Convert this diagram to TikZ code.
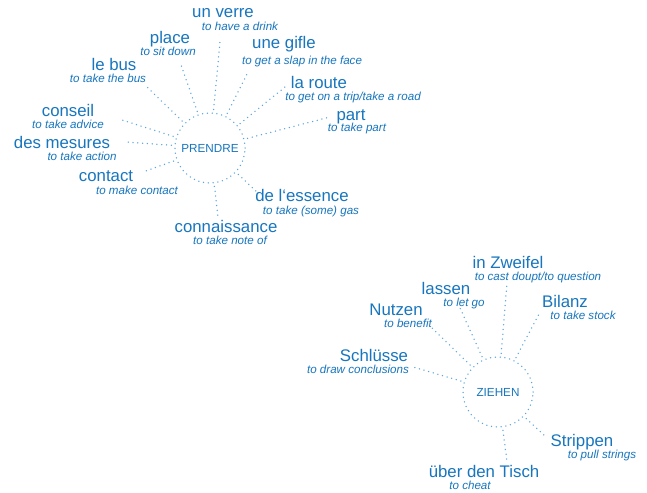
\documentclass[tikz,border=0pt]{standalone}
\usepackage{fontspec}
\setmainfont{Liberation Sans}
\definecolor{mainblue}{RGB}{23,118,190}
\definecolor{dotblue}{RGB}{90,165,222}
\tikzset{
  mainlbl/.style={inner sep=0pt, text=mainblue, font=\fontsize{16.8}{20}\selectfont},
  sublbl/.style={inner sep=0pt, text=mainblue, font=\fontsize{11.6}{14}\selectfont\itshape},
  hub/.style={circle, minimum size=70pt, inner sep=0pt, draw=dotblue, line width=1.5pt,
     dash pattern=on 0pt off 4.8pt, line cap=round, text=mainblue, font=\fontsize{11.7}{14}\selectfont},
  spoke/.style={draw=dotblue, line width=1.5pt, dash pattern=on 0pt off 4.8pt, line cap=round, shorten <=3pt}
}
\begin{document}
\begin{tikzpicture}[x=1pt,y=-1pt]
\useasboundingbox[fill=white] (0,0) rectangle (647,492);

% ---- PRENDRE ----
\node[hub] (P) at (210,148) {PRENDRE};

\node[mainlbl] (m1) at (223,13.5) {un verre};
\node[sublbl] (s1) at (240,26.5) {to have a drink};
\node[mainlbl] (m2) at (170,39.5) {place};
\node[sublbl] (s2) at (168,51.5) {to sit down};
\node[mainlbl] (m3) at (284,44.5) {une gifle};
\node[sublbl] (s3) at (302,61.5) {to get a slap in the face};
\node[mainlbl] (m4) at (114,64.5) {le bus};
\node[sublbl] (s4) at (108,78.5) {to take the bus};
\node[mainlbl] (m5) at (319,82.5) {la route};
\node[sublbl] (s5) at (353,98) {to get on a trip/take a road};
\node[mainlbl] (m6) at (68,110.5) {conseil};
\node[sublbl] (s6) at (68,124) {to take advice};
\node[mainlbl] (m7) at (351,116.5) {part};
\node[sublbl] (s7) at (357,128.5) {to take part};
\node[mainlbl] (m8) at (62,142.5) {des mesures};
\node[sublbl] (s8) at (82,156.5) {to take action};
\node[mainlbl] (m9) at (106,176.5) {contact};
\node[sublbl] (s9) at (137,190.5) {to make contact};
\node[mainlbl] (m10) at (302,195.5) {de l‘essence};
\node[sublbl] (s10) at (311,211) {to take (some) gas};
\node[mainlbl] (m11) at (226,226.5) {connaissance};
\node[sublbl] (s11) at (230,240.5) {to take note of};

\coordinate (e1) at (220,42);
\coordinate (e2) at (180,62);
\coordinate (e3) at (248,72);
\coordinate (e4) at (147,87);
\coordinate (e5) at (285,87);
\coordinate (e6) at (122,120);
\coordinate (e7) at (330,117);
\coordinate (e8) at (125,142);
\coordinate (e9) at (143,172);
\coordinate (e10) at (257,192);
\coordinate (e11) at (218,217);
\foreach \i in {1,...,11} {\draw[spoke] (P) -- (e\i);}

% ---- ZIEHEN ----
\node[hub] (Z) at (498,392) {ZIEHEN};

\node[mainlbl] (n1) at (508,262.5) {in Zweifel};
\node[sublbl] (t1) at (538,277.5) {to cast doupt/to question};
\node[mainlbl] (n2) at (446,288.5) {lassen};
\node[sublbl] (t2) at (464,303) {to let go};
\node[mainlbl] (n3) at (396,310) {Nutzen};
\node[sublbl] (t3) at (408,323.5) {to benefit};
\node[mainlbl] (n4) at (565,301.5) {Bilanz};
\node[sublbl] (t4) at (583,315.5) {to take stock};
\node[mainlbl] (n5) at (374,355.5) {Schlüsse};
\node[sublbl] (t5) at (358,369) {to draw conclusions};
\node[mainlbl] (n6) at (582,442.5) {Strippen};
\node[sublbl] (t6) at (602,455.5) {to pull strings};
\node[mainlbl] (n7) at (484,471.5) {über den Tisch};
\node[sublbl] (t7) at (470,485.5) {to cheat};

\coordinate (f1) at (507,283);
\coordinate (f2) at (460,308);
\coordinate (f3) at (432,328);
\coordinate (f4) at (540,312);
\coordinate (f5) at (413,367);
\coordinate (f6) at (547,438);
\coordinate (f7) at (507,462);
\foreach \i in {1,...,7} {\draw[spoke] (Z) -- (f\i);}
\end{tikzpicture}
\end{document}
